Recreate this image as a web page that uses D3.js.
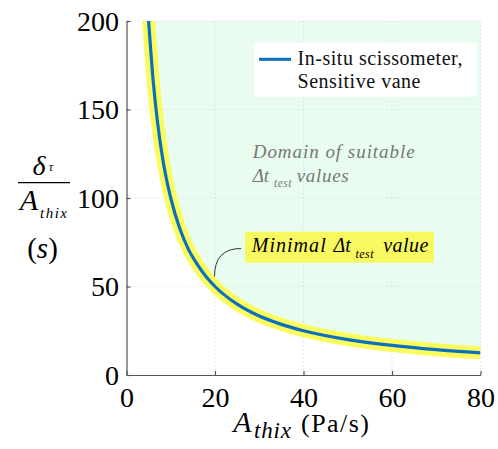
<!DOCTYPE html>
<html>
<head>
<meta charset="utf-8">
<script src="https://cdn.jsdelivr.net/npm/d3@7"></script>
<style>
  body { margin: 0; background: #fff; }
</style>
</head>
<body>
<svg width="498" height="449"></svg>
<script>
// values
var athix = [5, 6, 7, 8, 9, 10, 12, 14, 16, 18, 20, 25, 30, 35, 40, 50, 60, 70, 80];
var minTime = [200, 167, 143, 125, 111, 100, 83, 71, 62.5, 55.5, 50, 40, 33.3, 28.6, 25, 20, 16.7, 14.3, 12.5];
var xTicks = [0, 20, 40, 60, 80];
var yTicks = [0, 50, 100, 150, 200];
var legendLines = ["In-situ scissometer,", "Sensitive vane"];

var serif = "'Liberation Serif', 'Times New Roman', serif";

var margin = {top: 21, right: 17.5, bottom: 74, left: 126.5};

var svg = d3.select("svg");
var width = +svg.attr("width") - margin.left - margin.right;
var height = +svg.attr("height") - margin.top - margin.bottom;

var g = svg.append("g")
    .attr("transform", "translate(" + margin.left + "," + margin.top + ")");

var x = d3.scaleLinear().domain([0, 80]).range([0, width]);
var y = d3.scaleLinear().domain([0, 200]).range([height, 0]);

var pts = athix.map(function(a, i) { return [a, minTime[i]]; });

// small helper for the LaTeX-like labels (CM is wider than Times, so stretch a bit)
function label(str, px, py, size, opt) {
  opt = opt || {};
  var t = svg.append("text")
      .attr("x", px).attr("y", py)
      .attr("font-size", size)
      .attr("fill", opt.fill || "#000")
      .attr("font-style", opt.italic ? "italic" : null)
      .attr("text-anchor", opt.anchor || null)
      .text(str);
  if (opt.len) t.attr("textLength", opt.len).attr("lengthAdjust", "spacing");
  return t;
}

// domain of suitable values
var area = d3.area()
    .x(function(d) { return x(d[0]); })
    .y0(y(200))
    .y1(function(d) { return y(d[1]); })
    .curve(d3.curveMonotoneX);

g.append("path")
    .datum(pts)
    .attr("d", area)
    .attr("fill", "#e8fdef");

// grid
g.selectAll(".gx").data(xTicks.slice(1)).enter().append("line")
    .attr("x1", function(d) { return x(d); }).attr("x2", function(d) { return x(d); })
    .attr("y1", 0).attr("y2", height)
    .attr("stroke", "#c8d0cb").attr("stroke-width", 0.8).attr("stroke-dasharray", "1,3");
g.selectAll(".gy").data(yTicks.slice(1)).enter().append("line")
    .attr("x1", 0).attr("x2", width)
    .attr("y1", function(d) { return y(d); }).attr("y2", function(d) { return y(d); })
    .attr("stroke", "#c8d0cb").attr("stroke-width", 0.8).attr("stroke-dasharray", "1,3");

// curve
var line = d3.line()
    .x(function(d) { return x(d[0]); })
    .y(function(d) { return y(d[1]); })
    .curve(d3.curveMonotoneX);

g.append("defs").append("clipPath").attr("id", "clip")
  .append("rect").attr("width", width).attr("height", height);

var cg = g.append("g").attr("clip-path", "url(#clip)");
cg.append("path").datum(pts).attr("d", line)
    .attr("fill", "none").attr("stroke", "#fbfb5c").attr("stroke-width", 13);
cg.append("path").datum(pts).attr("d", line)
    .attr("fill", "none").attr("stroke", "#0b6fc0").attr("stroke-width", 3.2);

// axes
var xAxis = g.append("g")
    .attr("transform", "translate(0," + height + ")")
    .call(d3.axisBottom(x).tickValues(xTicks).tickSizeInner(-4).tickSizeOuter(0).tickPadding(12));
var yAxis = g.append("g")
    .call(d3.axisLeft(y).tickValues(yTicks).tickSizeInner(-4).tickSizeOuter(0).tickPadding(7.5));

[xAxis, yAxis].forEach(function(ax) {
  ax.select(".domain").attr("stroke", "#555").attr("stroke-width", 1.2);
  ax.selectAll(".tick line").attr("stroke", "#555").attr("stroke-width", 1.2);
  ax.selectAll(".tick text").attr("font-size", 28).attr("fill", "#000");
});
xAxis.selectAll(".tick text").attr("dy", "0.71em");
yAxis.selectAll(".tick text").attr("dy", "0.33em");

// legend
var leg = g.append("g").attr("transform", "translate(127.5,21.7)");
leg.append("rect").attr("width", 223).attr("height", 54).attr("fill", "#fff");
leg.append("line").attr("x1", 5).attr("x2", 37).attr("y1", 16.6).attr("y2", 16.6)
    .attr("stroke", "#0b6fc0").attr("stroke-width", 3);
label(legendLines[0], 297.5, 65, 20, {fill: "#111", len: 165});
label(legendLines[1], 297.5, 87.7, 20, {fill: "#111", len: 123});

// domain annotation
var grey = "#777";
label("Domain of suitable", 252.7, 157.7, 19, {italic: true, fill: grey, len: 162});
label("Δt", 252.7, 181.7, 19, {italic: true, fill: grey});
label("test", 274, 186.5, 11.5, {italic: true, fill: grey, len: 17.5});
label("values", 296.7, 181.7, 19, {italic: true, fill: grey, len: 52});

// minimal value label
var lx = x(20) + margin.left, ly = y(50) + margin.top;
svg.append("path")
    .attr("d", "M" + (lx - 0.5) + "," + (ly - 10) + " Q" + (lx - 0.5) + "," + (ly - 38) + " " + (lx + 26) + "," + (ly - 38))
    .attr("fill", "none").attr("stroke", "#333").attr("stroke-width", 1);
svg.append("rect").attr("x", 245).attr("y", 231.7).attr("width", 189).attr("height", 31)
    .attr("fill", "#f8f860");
label("Minimal", 251.7, 252.3, 20, {italic: true, len: 74});
label("Δt", 333.5, 252.3, 20, {italic: true});
label("test", 355.5, 258.3, 12, {italic: true, len: 18});
label("value", 383.3, 252.3, 20, {italic: true, len: 45});

// x axis label
label("A", 233.3, 431.7, 30, {italic: true});
label("thix", 254, 438, 23, {italic: true, len: 37});
label("(Pa/s)", 301, 431.7, 26, {len: 68});

// y axis label
label("δ", 39, 175, 28, {italic: true, anchor: "middle"});
label("τ", 51, 171, 12, {italic: true, anchor: "middle"});
svg.append("line").attr("x1", 18).attr("x2", 70).attr("y1", 182.7).attr("y2", 182.7)
    .attr("stroke", "#000").attr("stroke-width", 1.3);
label("A", 29, 210, 30, {italic: true, anchor: "middle"});
label("thix", 40, 218, 15, {italic: true, len: 27});
var sl = svg.append("text").attr("x", 42.5).attr("y", 258).attr("text-anchor", "middle")
    .attr("font-size", 29);
sl.append("tspan").text("(");
sl.append("tspan").attr("font-style", "italic").text("s");
sl.append("tspan").text(")");

// serif everywhere, like the LaTeX figure
svg.selectAll("text").style("font-family", serif);
</script>
</body>
</html>
